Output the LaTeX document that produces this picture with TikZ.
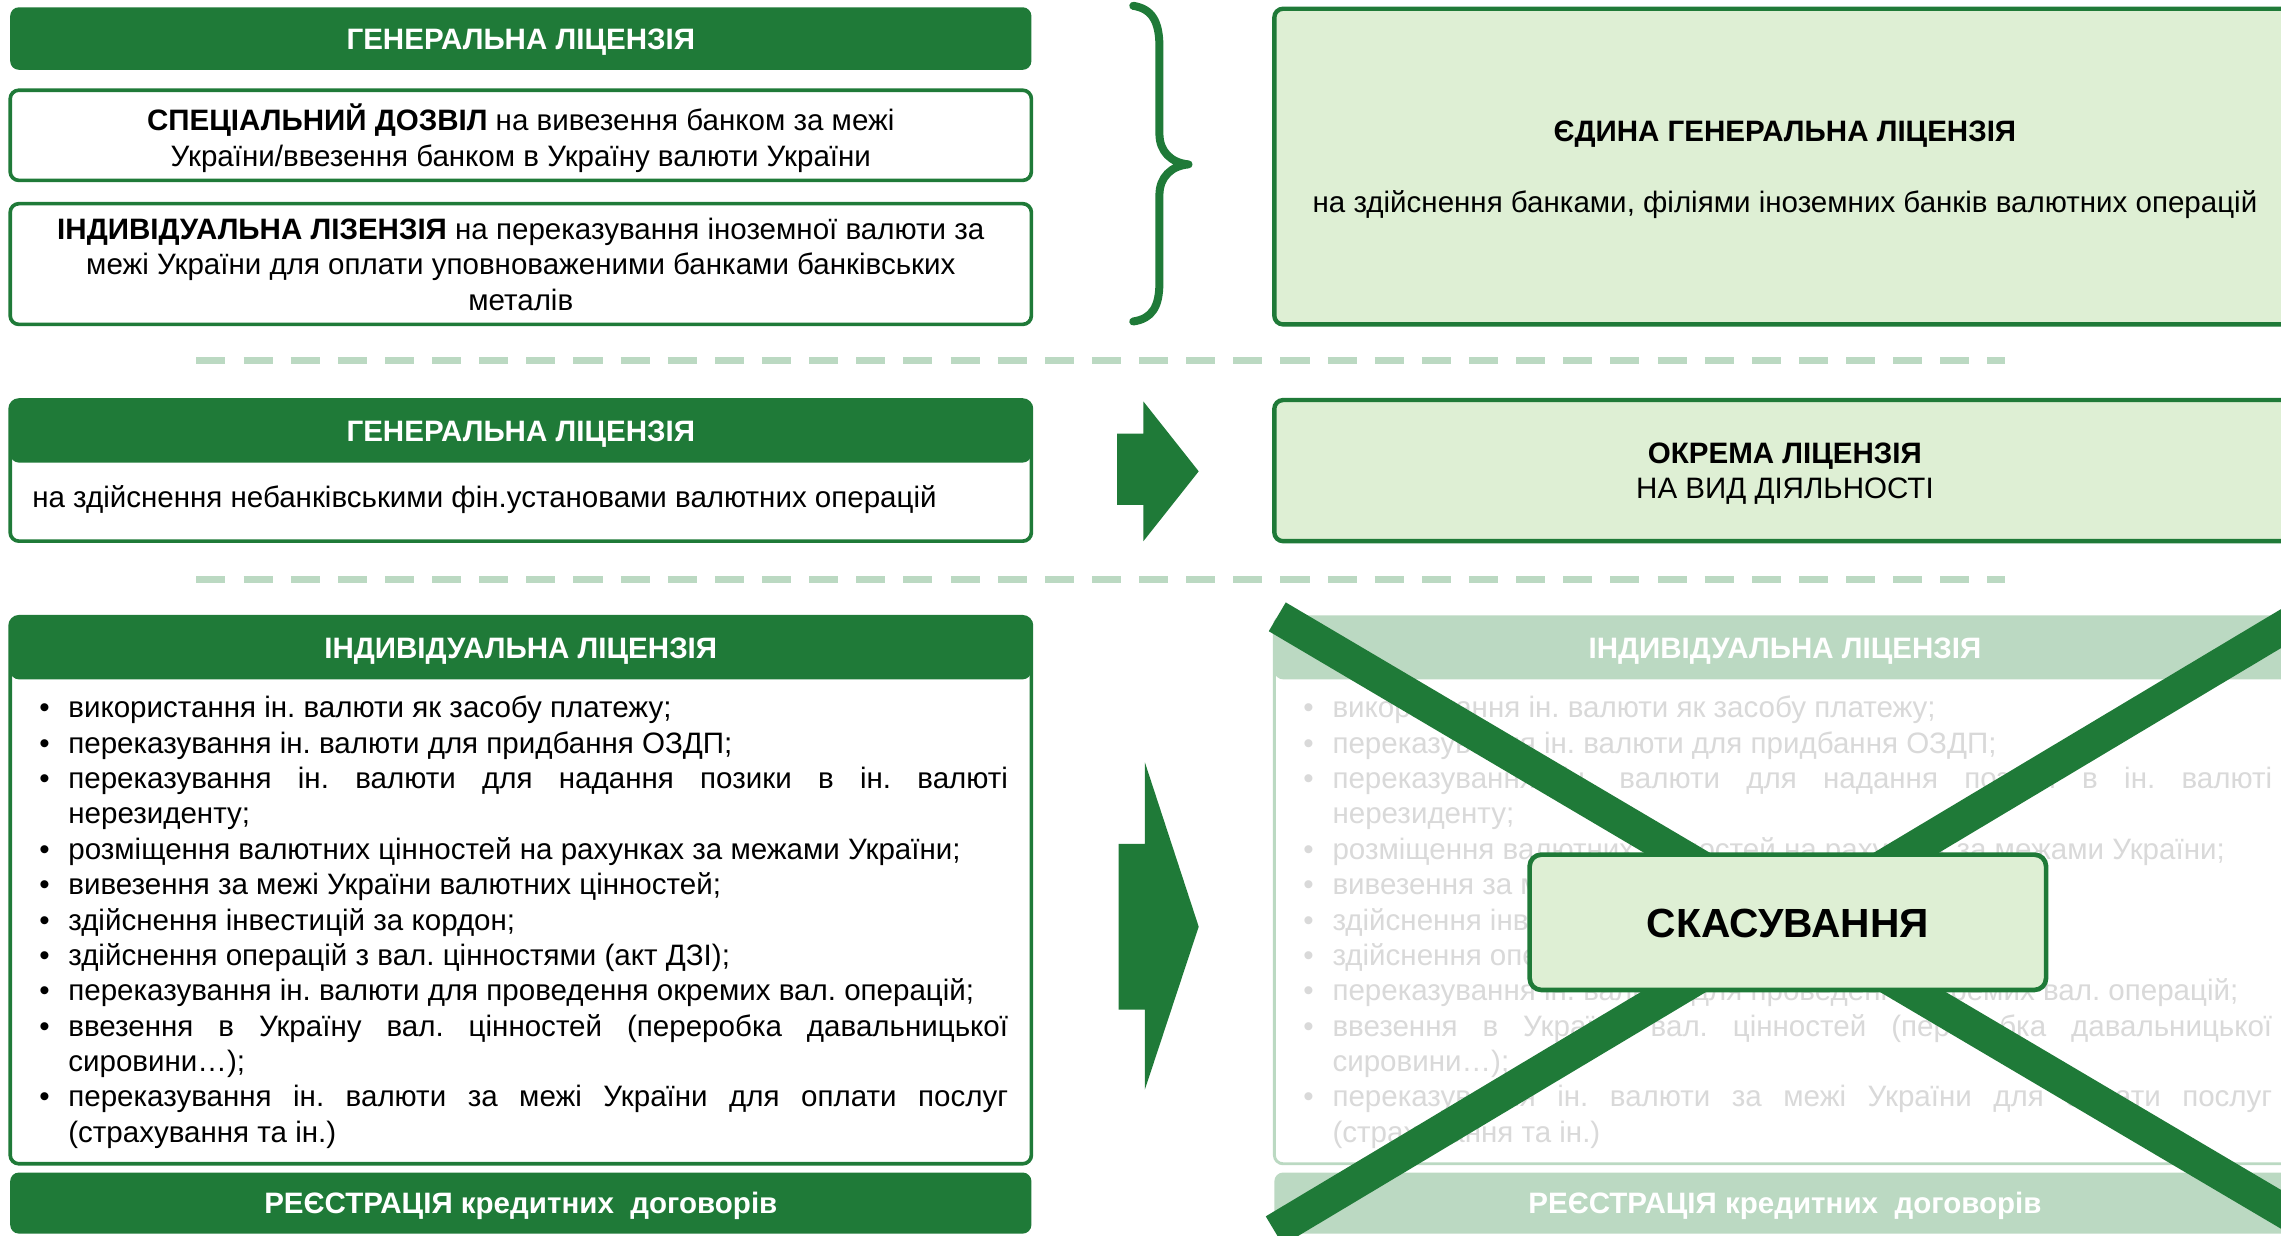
\documentclass[tikz,border=0pt]{standalone}
\usepackage{fontspec}
\setmainfont{Liberation Sans}
\definecolor{dg}{RGB}{31,122,56}
\definecolor{lg}{RGB}{222,239,212}
\definecolor{fg}{RGB}{187,217,194}
\definecolor{gt}{RGB}{217,217,217}
\newcommand{\fs}{\fontsize{20.3}{24.3}\selectfont\frenchspacing}
\newcommand{\bul}{\noindent\hangindent=20pt\hangafter=1\makebox[20pt][l]{•}}
\newcommand{\itemtext}{%
\bul використання ін. валюти як засобу платежу;\par
\bul переказування ін. валюти для придбання ОЗДП;\par
\bul переказування ін. валюти для надання позики в ін. валюті\linebreak нерезиденту;\par
\bul розміщення валютних цінностей на рахунках за межами України;\par
\bul вивезення за межі України валютних цінностей;\par
\bul здійснення інвестицій за кордон;\par
\bul здійснення операцій з вал. цінностями (акт ДЗІ);\par
\bul переказування ін. валюти для проведення окремих вал. операцій;\par
\bul ввезення в Україну вал. цінностей (переробка давальницької\linebreak сировини…);\par
\bul переказування ін. валюти за межі України для оплати послуг\linebreak (страхування та ін.)\par}
\tikzset{
  base/.style={inner sep=0pt, outer sep=0pt, minimum width=702pt, anchor=north west},
  hdr/.style={base, fill=dg, rounded corners=6pt, text=white, font=\fs\bfseries, minimum height=43pt, text height=14.5pt, text depth=0pt},
  fhdr/.style={hdr, fill=fg},
  wbox/.style={base, draw=dg, line width=2.5pt, fill=white, rounded corners=6pt, align=center, font=\fs, text depth=0pt},
  fbox/.style={wbox, draw=fg},
  lbox/.style={base, draw=dg, line width=3pt, fill=lg, rounded corners=6pt, align=center, font=\fs, text depth=0pt},
  sep/.style={fg, line width=4.7pt, dash pattern=on 20pt off 12.4pt},
  bigarrow/.style={fill=dg},
  cross/.style={dg, line width=23pt},
  listtext/.style={inner sep=0pt, outer sep=0pt, anchor=base west, text width=666pt, align=justify, font=\fs}
}
\begin{document}
\begin{tikzpicture}[x=1pt,y=-1pt]
\useasboundingbox (0,0) rectangle (1568,849);
\clip (0,0) rectangle (1568,849);
% ---------- row 1 ----------
\node[hdr] (h1) at (7,5) {ГЕНЕРАЛЬНА ЛІЦЕНЗІЯ};
\node[wbox, minimum height=62pt] (b1) at (7,62) {\textbf{СПЕЦІАЛЬНИЙ ДОЗВІЛ} на вивезення банком за межі\\України/ввезення банком в Україну валюти України};
\node[wbox, minimum height=83pt] (b2) at (7,140) {\textbf{ІНДИВІДУАЛЬНА ЛІЗЕНЗІЯ} на переказування іноземної валюти за\\межі України для оплати уповноваженими банками банківських\\металів};
\draw[dg, line width=5.5pt, line cap=round, line join=round]
  (779,4) .. controls (792,6) and (797,15) .. (797,32) -- (797,92)
  .. controls (797,104) and (805,112) .. (817,113)
  .. controls (805,114) and (797,122) .. (797,134) -- (797,194)
  .. controls (797,211) and (792,219) .. (779,221);
\node[lbox, minimum height=217pt] (e1) at (876,6) {\textbf{ЄДИНА ГЕНЕРАЛЬНА ЛІЦЕНЗІЯ}\\[24.7pt]на здійснення банками, філіями іноземних банків валютних операцій};
\draw[sep] (135,248) -- (1378,248);
% ---------- row 2 ----------
\node[wbox, minimum height=97pt] (b3) at (7,275) {};
\node[hdr] (h2) at (7,275) {ГЕНЕРАЛЬНА ЛІЦЕНЗІЯ};
\node[font=\fs, inner sep=0pt, anchor=base west] (t3) at (22,349) {на здійснення небанківськими фін.установами валютних операцій};
\fill[bigarrow] (768,298) -- (786,298) -- (786,276) -- (824,324) -- (786,372) -- (786,347) -- (768,347) -- cycle;
\node[lbox, minimum height=97pt] (o1) at (876,275) {\textbf{ОКРЕМА ЛІЦЕНЗІЯ}\\НА ВИД ДІЯЛЬНОСТІ};
\draw[sep] (135,398.5) -- (1378,398.5);
% ---------- row 3 left ----------
\node[wbox, minimum height=376pt] (b4) at (7,424) {};
\node[hdr] (h3) at (7,424) {ІНДИВІДУАЛЬНА ЛІЦЕНЗІЯ};
\node[listtext] (l1) at (27,493.5) {\itemtext};
\node[hdr, minimum height=42pt] (h4) at (7,806) {РЕЄСТРАЦІЯ кредитних\ \ договорів};
\fill[bigarrow] (769,580) -- (787,580) -- (787,524) -- (824,637) -- (787,749) -- (787,694) -- (769,694) -- cycle;
% ---------- row 3 right (faded) ----------
\node[fbox, minimum height=376pt, line width=2pt] (b5) at (876,424) {};
\node[fhdr] (h5) at (876,424) {ІНДИВІДУАЛЬНА ЛІЦЕНЗІЯ};
\node[listtext, text=gt] (l2) at (896,493.5) {\itemtext};
\node[fhdr, minimum height=42pt] (h6) at (876,806) {РЕЄСТРАЦІЯ кредитних\ \ договорів};
% ---------- cross ----------
\coordinate (c1) at (878,424);
\coordinate (c2) at (1620,862);
\coordinate (c3) at (876,846);
\coordinate (c4) at (1620,401);
\draw[cross] (c1) -- (c2);
\draw[cross] (c3) -- (c4);
\node[lbox, anchor=center, minimum width=355pt, minimum height=93pt, line width=3.2pt, rounded corners=8pt, font=\fontsize{28}{34}\selectfont\bfseries, text height=20.5pt] (sk) at (1229,634) {СКАСУВАННЯ};
\end{tikzpicture}
\end{document}
